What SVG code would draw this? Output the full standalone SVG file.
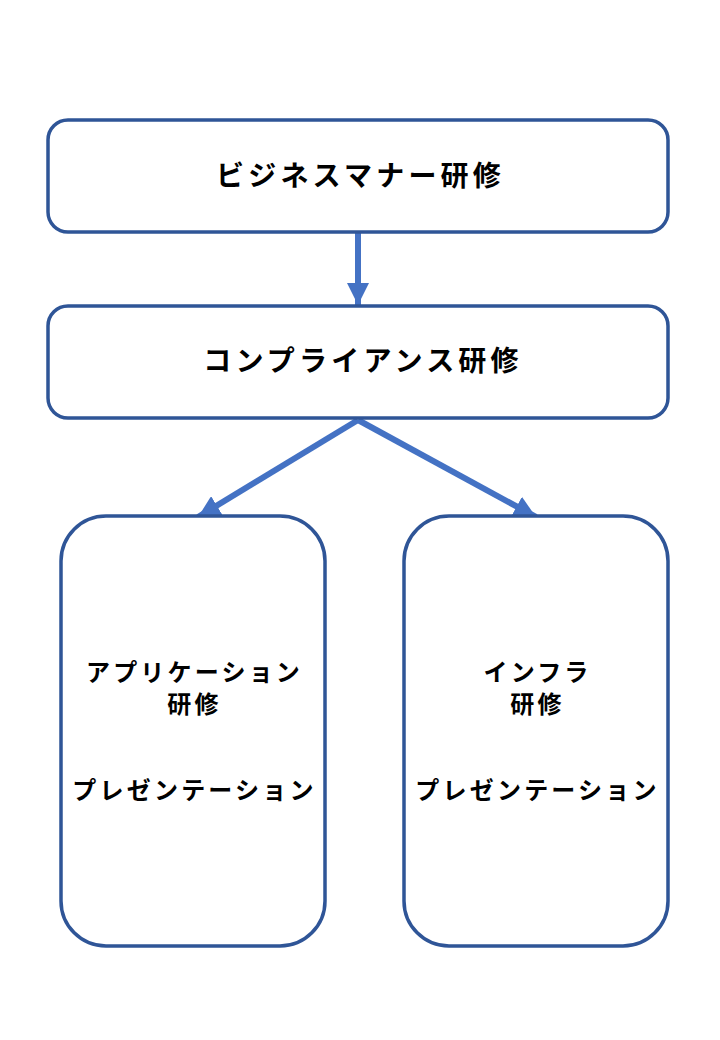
<svg xmlns="http://www.w3.org/2000/svg" width="720" height="1040" viewBox="0 0 720 1040">
<defs>
<style>
.box{fill:#fff;stroke:#2F5597;stroke-width:3.5}
.t1{font-family:"Noto Sans CJK JP",sans-serif;font-weight:bold;font-size:28px;letter-spacing:4.2px;fill:#000;text-anchor:middle}
.t2{font-family:"Noto Sans CJK JP",sans-serif;font-weight:bold;font-size:24px;letter-spacing:3.2px;fill:#000;text-anchor:middle}
.c{stroke:#4472C4;stroke-width:6;fill:none}
</style>
<marker id="ah" markerUnits="userSpaceOnUse" viewBox="0 0 22 22" refX="22" refY="11" markerWidth="22" markerHeight="22" orient="auto">
<path d="M0,0 L22,11 L0,22 Z" fill="#4472C4"/>
</marker>
</defs>
<rect width="720" height="1040" fill="#fff"/>
<g id="connectors">
<line class="c" x1="358" y1="233" x2="358" y2="305" marker-end="url(#ah)"/>
<line class="c" x1="358" y1="420" x2="198" y2="517" marker-end="url(#ah)"/>
<line class="c" x1="358" y1="420" x2="536" y2="517" marker-end="url(#ah)"/>
</g>
<g id="node-business">
<rect class="box" x="48" y="120" width="620" height="112" rx="20"/>
<text class="t1" x="360.5" y="186">ビジネスマナー研修</text>
</g>
<g id="node-compliance">
<rect class="box" x="48" y="306" width="620" height="112" rx="20"/>
<text class="t1" x="363" y="371">コンプライアンス研修</text>
</g>
<g id="node-application">
<rect class="box" x="61" y="516" width="264" height="430" rx="45"/>
<text class="t2" x="194.5" y="681">アプリケーション</text>
<text class="t2" x="194.5" y="713">研修</text>
<text class="t2" x="194.5" y="799">プレゼンテーション</text>
</g>
<g id="node-infra">
<rect class="box" x="404" y="516" width="264" height="430" rx="45"/>
<text class="t2" x="537.5" y="681">インフラ</text>
<text class="t2" x="537.5" y="713">研修</text>
<text class="t2" x="537.5" y="799">プレゼンテーション</text>
</g>
</svg>
